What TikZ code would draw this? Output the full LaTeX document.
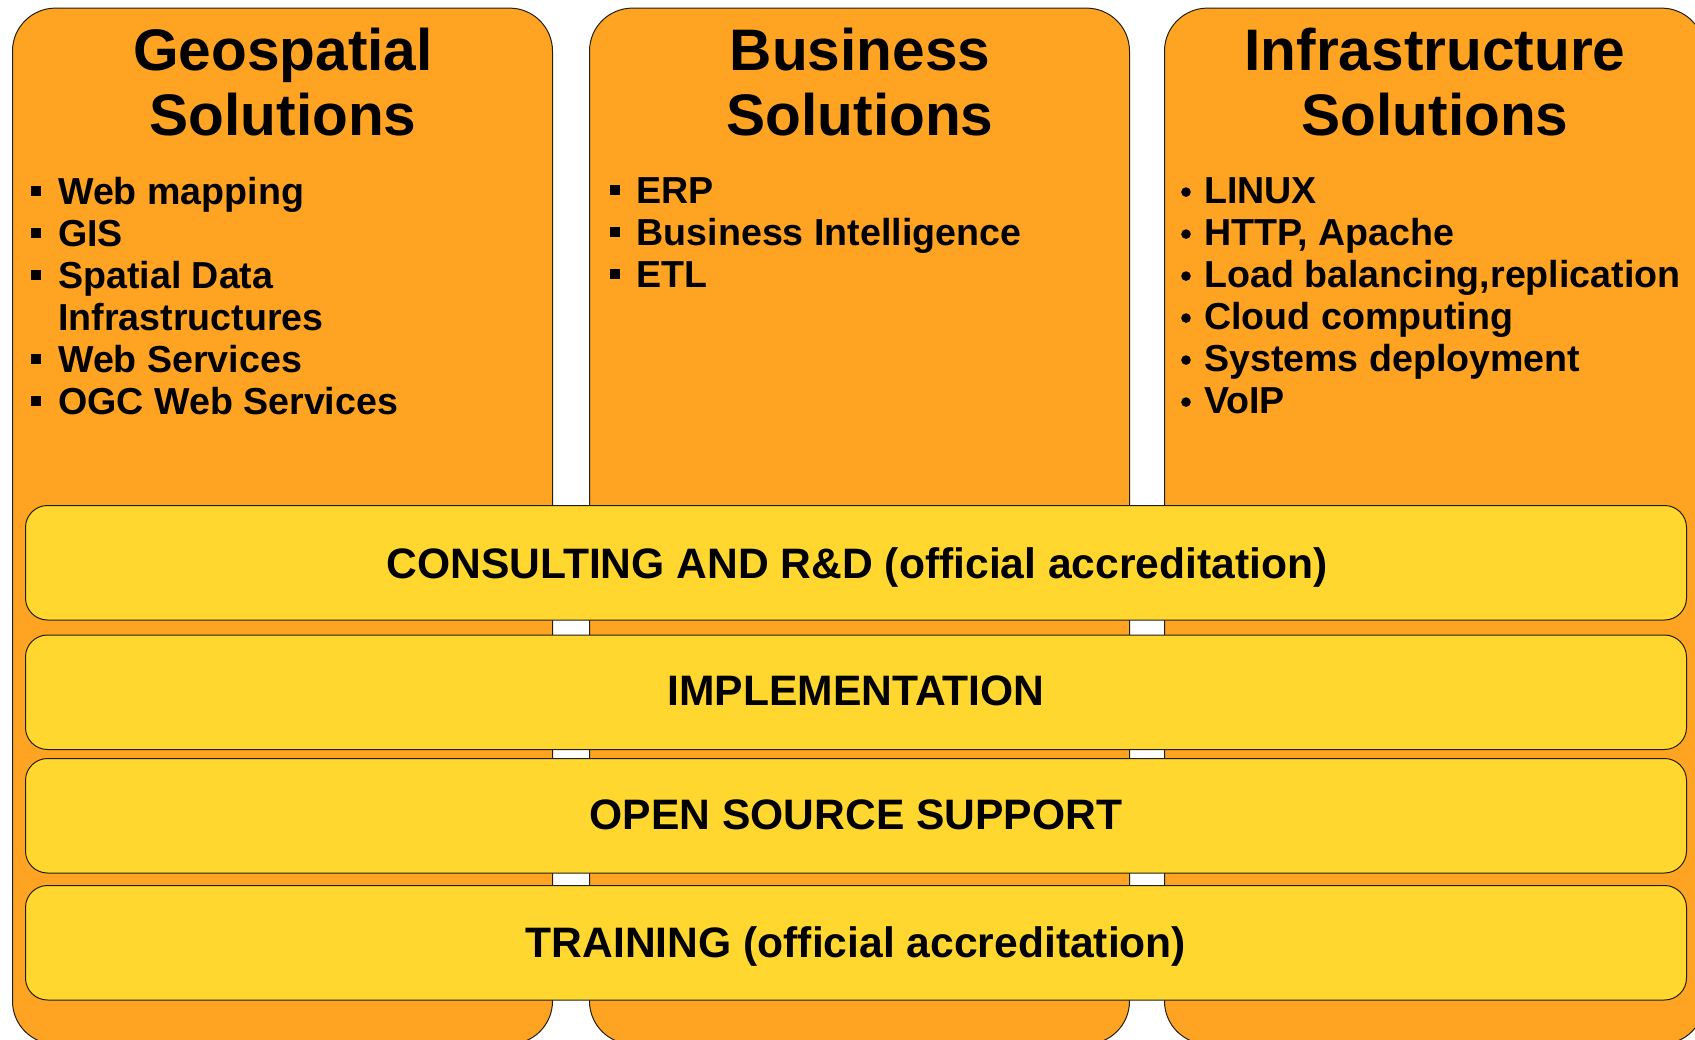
\documentclass[tikz,border=0pt]{standalone}
\usepackage{fontspec}
\setmainfont{Liberation Sans}
\definecolor{panelorange}{HTML}{FFA322}
\definecolor{bandyellow}{HTML}{FFD72F}
\definecolor{edge}{HTML}{202010}
\newcommand{\sq}{\makebox[27pt][l]{\raisebox{8.5pt}{\rule{10pt}{10pt}}}}
\newcommand{\rd}{\makebox[21pt][l]{\hspace{-2pt}\raisebox{11.5pt}{\tikz[baseline]\fill (0,0) circle (4.8pt);}}}
\tikzset{
  panel/.style={draw=edge,fill=panelorange,line width=1pt,rounded corners=43pt,minimum width=540pt,minimum height=1036pt,anchor=north west,inner sep=0pt},
  band/.style={draw=edge,fill=bandyellow,line width=1pt,rounded corners=22pt,minimum width=1661pt,minimum height=114.5pt,anchor=north west,inner sep=0pt},
  bandtext/.style={font=\fontsize{42.6}{46}\selectfont\bfseries},
  title/.style={anchor=north,inner sep=0pt,align=center,font=\fontsize{58.6}{65}\selectfont\bfseries},
  items/.style={anchor=north west,inner sep=0pt,align=left,font=\fontsize{37.6}{42}\selectfont\bfseries},
}
\begin{document}
\begin{tikzpicture}[x=1pt,y=-1pt]
\useasboundingbox (0,0) rectangle (1695,1039);
\clip (0,0) rectangle (1695,1039);
\node[panel] (geo) at (12,7.6) {};
\node[panel] (bus) at (589,7.6) {};
\node[panel] (inf) at (1164,7.6) {};
\node[band] (b1) at (25,505) {};
\node[band] (b2) at (25,634.5) {};
\node[band] (b3) at (25,758) {};
\node[band] (b4) at (25,885) {};
\node[bandtext] (t1) at (857,567) {CONSULTING AND R\&D (official accreditation)};
\node[bandtext] (t2) at (856,691) {IMPLEMENTATION};
\node[bandtext] (t3) at (856,815) {OPEN SOURCE SUPPORT};
\node[bandtext] (t4) at (856,946) {TRAINING (official accreditation)};
\node[title] (tg) at (283,28) {Geospatial\\Solutions};
\node[title] (tb) at (860,28) {Business\\Solutions};
\node[title] (ti) at (1435,28) {Infrastructure\\Solutions};
\node[items] (lg) at (31,177) {\sq Web mapping\\\sq GIS\\\sq Spatial Data\\\hspace*{27pt}Infrastructures\\\sq Web Services\\\sq OGC Web Services};
\node[items] (lb) at (609.5,177.5) {\sq ERP\\\sq Business Intelligence\\\sq ETL};
\node[items] (li) at (1183,177.5) {\rd LINUX\\\rd HTTP, Apache\\\rd Load balancing,replication\\\rd Cloud computing\\\rd Systems deployment\\\rd VoIP};
\end{tikzpicture}
\end{document}
